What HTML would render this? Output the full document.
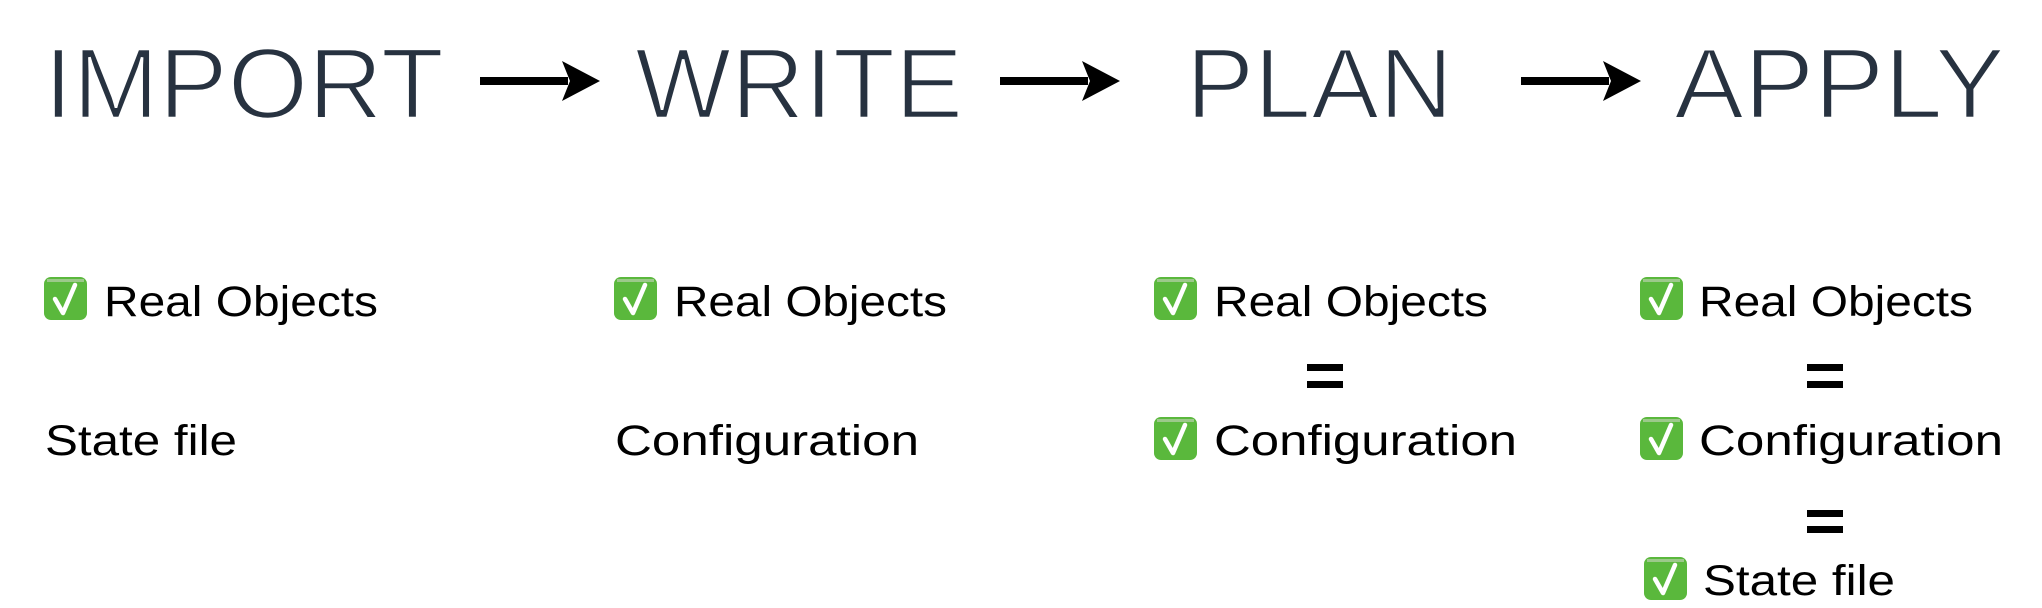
<!DOCTYPE html>
<html><head><meta charset="utf-8"><style>html,body{margin:0;padding:0;background:#fff;}svg{display:block}</style></head>
<body>
<svg width="2042" height="608" viewBox="0 0 2042 608" xmlns="http://www.w3.org/2000/svg">
<defs>
<g id="ck"><rect x="0" y="0" width="43" height="43" rx="7" fill="#5ab83c"/><rect x="3" y="2" width="37" height="3" fill="#9cc98a"/><path d="M11 22 L19 36 L31 8" stroke="#fff" stroke-width="4.5" fill="none" stroke-linecap="round" stroke-linejoin="round"/></g>
<g id="ar"><rect x="0" y="-4" width="88" height="8" fill="#000"/><path d="M82 -20 L120 0 L82 20 L90 0 Z" fill="#000"/></g>
</defs>
<g font-family="Liberation Sans, sans-serif" fill="#273240" font-size="100" stroke="#fff" stroke-width="2.5">
<text x="44" y="118" textLength="400" lengthAdjust="spacingAndGlyphs">IMPORT</text>
<text x="635" y="118" textLength="328" lengthAdjust="spacingAndGlyphs">WRITE</text>
<text x="1186" y="118" textLength="267" lengthAdjust="spacingAndGlyphs">PLAN</text>
<text x="1674" y="118" textLength="331" lengthAdjust="spacingAndGlyphs">APPLY</text>
</g>
<use href="#ar" x="480" y="81"/>
<use href="#ar" x="1000" y="81"/>
<use href="#ar" x="1521" y="81"/>
<g font-family="Liberation Sans, sans-serif" fill="#000" font-size="43">
<use href="#ck" x="44" y="277"/><text x="104" y="316" textLength="274" lengthAdjust="spacingAndGlyphs">Real Objects</text>
<text x="45" y="455" textLength="192" lengthAdjust="spacingAndGlyphs">State file</text>
<use href="#ck" x="614" y="277"/><text x="674" y="316" textLength="273" lengthAdjust="spacingAndGlyphs">Real Objects</text>
<text x="615" y="455" textLength="304" lengthAdjust="spacingAndGlyphs">Configuration</text>
<use href="#ck" x="1154" y="277"/><text x="1214" y="316" textLength="274" lengthAdjust="spacingAndGlyphs">Real Objects</text>
<rect x="1307" y="364" width="36" height="7" fill="#000"/><rect x="1307" y="381" width="36" height="7" fill="#000"/>
<use href="#ck" x="1154" y="417"/><text x="1214" y="455" textLength="303" lengthAdjust="spacingAndGlyphs">Configuration</text>
<use href="#ck" x="1640" y="277"/><text x="1699" y="316" textLength="274" lengthAdjust="spacingAndGlyphs">Real Objects</text>
<rect x="1807" y="364" width="36" height="7" fill="#000"/><rect x="1807" y="381" width="36" height="7" fill="#000"/>
<use href="#ck" x="1640" y="417"/><text x="1699" y="455" textLength="304" lengthAdjust="spacingAndGlyphs">Configuration</text>
<rect x="1807" y="510" width="36" height="7" fill="#000"/><rect x="1807" y="526" width="36" height="7" fill="#000"/>
<use href="#ck" x="1644" y="557"/><text x="1703" y="595" textLength="192" lengthAdjust="spacingAndGlyphs">State file</text>
</g>
</svg>
</body></html>
